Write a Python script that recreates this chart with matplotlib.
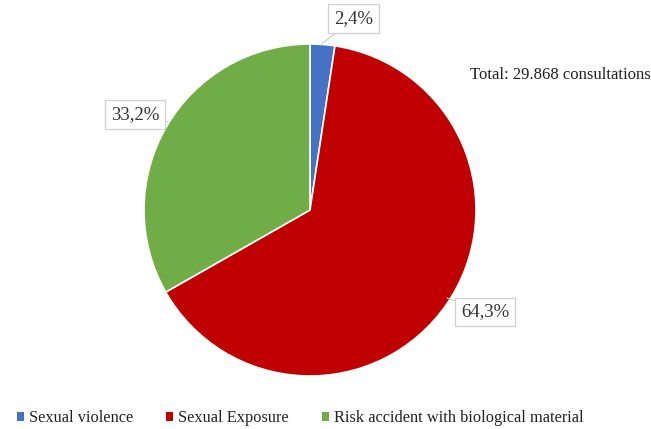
import matplotlib
matplotlib.use("Agg")
import matplotlib.pyplot as plt
from matplotlib.patches import Patch

categories = ["Sexual violence", "Sexual Exposure", "Risk accident with biological material"]
shares = [2.4, 64.3, 33.2]
labels = ["2,4%", "64,3%", "33,2%"]
colors = ["#4472C4", "#C00000", "#70AD47"]
total_text = "Total: 29.868 consultations"

plt.rcParams["font.family"] = ["Liberation Serif", "DejaVu Serif"]

W, H = 651, 429
fig = plt.figure(figsize=(W / 100, H / 100), dpi=100)
cx, cy, r = 310, 210, 166
ax = fig.add_axes([(cx - r) / W, (H - cy - r) / H, 2 * r / W, 2 * r / H])

wedges, _ = ax.pie(shares, colors=colors, startangle=90, counterclock=False,
                   radius=1.0, wedgeprops=dict(edgecolor="white", linewidth=1.2))
ax.set_xlim(-1, 1)
ax.set_ylim(-1, 1)
ax.set_aspect("equal")
ax.axis("off")

# label boxes with leader lines to their wedges
label_pos = [(0.262, 1.154), (1.054, -0.614), (-1.054, 0.575)]
anchor_pts = [(0.07, 1.0), (0.825, -0.53), (-0.855, 0.53)]
box = dict(boxstyle="square,pad=0.3", fc="white", ec="#D0D0D0", lw=0.9)
for lab, pos, anc in zip(labels, label_pos, anchor_pts):
    ax.annotate(lab, xy=anc, xytext=pos, ha="center", va="center",
                fontsize=13.5, color="#333333", bbox=box,
                arrowprops=dict(arrowstyle="-", color="#C8C8C8", lw=0.8,
                                shrinkA=0, shrinkB=0),
                annotation_clip=False)

fig.text(470 / W, 1 - 75 / H, total_text, fontsize=12, color="#202020",
         ha="left", va="center")

handles = [Patch(facecolor=c, edgecolor="none") for c in colors]
fig.legend(handles, categories, loc="center", bbox_to_anchor=(300 / W, 1 - 418 / H),
           ncol=3, frameon=False, fontsize=11.8, handlelength=0.45, handleheight=0.45,
           handletextpad=0.3, columnspacing=2.0, labelcolor="#222222")

fig.savefig("out.png", dpi=100, facecolor="white")
